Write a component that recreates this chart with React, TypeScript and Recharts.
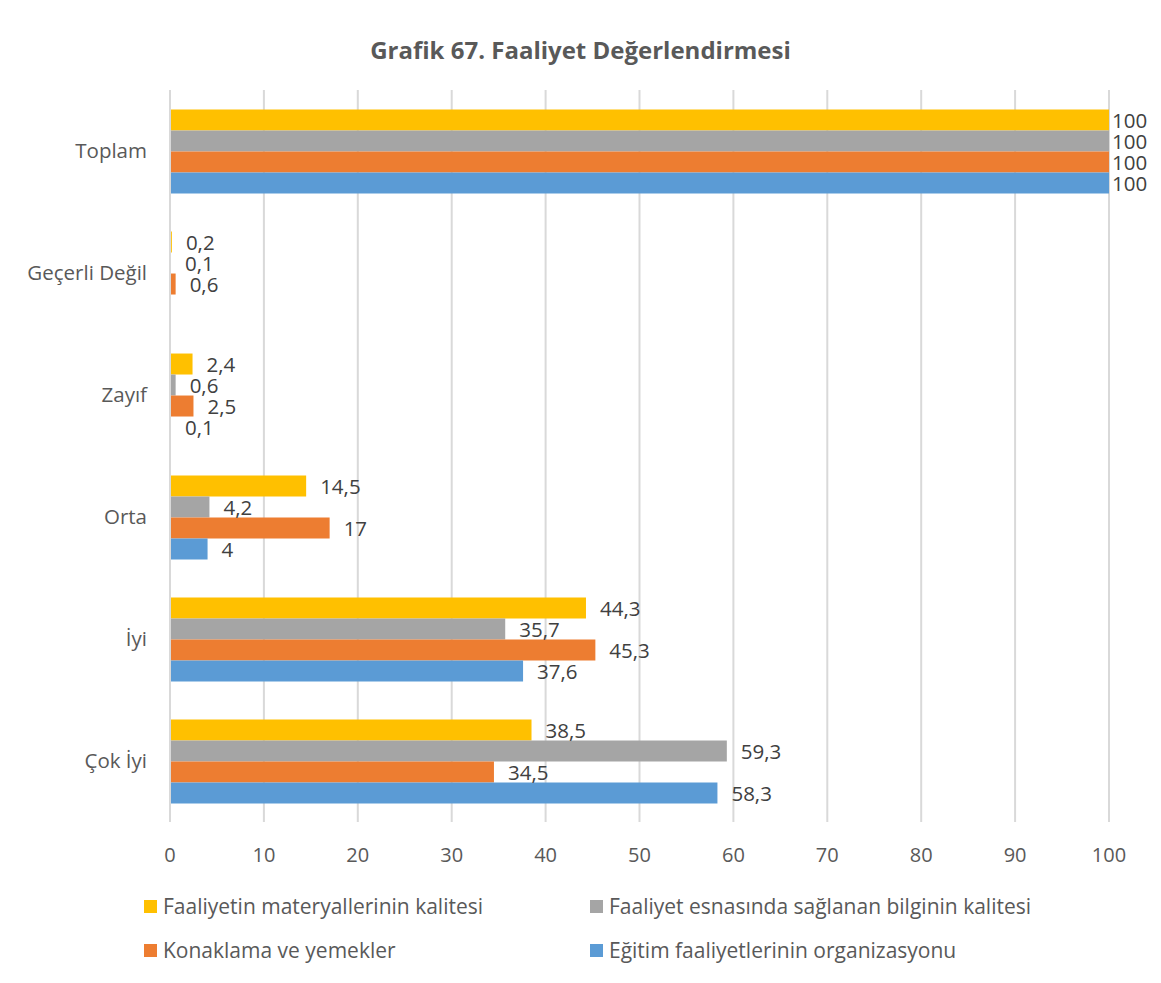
import React from "react";
import { BarChart, Bar, XAxis, YAxis, CartesianGrid, LabelList } from "recharts";

const categories = ["Toplam", "Geçerli Değil", "Zayıf", "Orta", "İyi", "Çok İyi"];
const materyal = [100, 0.2, 2.4, 14.5, 44.3, 38.5];
const bilgi = [100, 0.1, 0.6, 4.2, 35.7, 59.3];
const konaklama = [100, 0.6, 2.5, 17, 45.3, 34.5];
const organizasyon = [100, null, 0.1, 4, 37.6, 58.3];
const xTicks = [0, 10, 20, 30, 40, 50, 60, 70, 80, 90, 100];

const series = [
  { key: "materyal", name: "Faaliyetin materyallerinin kalitesi", color: "#FFC000", values: materyal },
  { key: "bilgi", name: "Faaliyet esnasında sağlanan bilginin kalitesi", color: "#A5A5A5", values: bilgi },
  { key: "konaklama", name: "Konaklama ve yemekler", color: "#ED7D31", values: konaklama },
  { key: "organizasyon", name: "Eğitim faaliyetlerinin organizasyonu", color: "#5B9BD5", values: organizasyon },
];

const data = categories.map((c, i) => {
  const row: any = { cat: c };
  series.forEach((s) => {
    row[s.key] = s.values[i];
  });
  return row;
});

const FONT = "'Open Sans', sans-serif";
const TEXT = "#595959";

const renderLabel = (props: any) => {
  const { x, y, width, height, value } = props;
  if (value === null || value === undefined) return null;
  const off = value >= 100 ? 3 : 14;
  return (
    <text
      x={x + width + off}
      y={y + height / 2}
      dominantBaseline="central"
      fill="#404040"
      fontSize={20.5}
      fontFamily={FONT}
    >
      {String(value).replace(".", ",")}
    </text>
  );
};

export default function App() {
  return (
    <div style={{ position: "relative", width: 1161, height: 983 }}>
      <svg
        width={1161}
        height={983}
        style={{ position: "absolute", left: -8, top: -8, pointerEvents: "none" }}
      >
        <rect x={7} y={7} width={1149} height={1000} fill="none" stroke="#d4d4d4" strokeWidth={1.5} />
      </svg>
      <div
        style={{
          position: "absolute",
          left: -8,
          top: 25,
          width: 1161,
          textAlign: "center",
          fontFamily: FONT,
          fontWeight: "bold",
          fontSize: 24,
          color: TEXT,
        }}
      >
        Grafik 67. Faaliyet Değerlendirmesi
      </div>
      <div style={{ position: "absolute", left: -8, top: -8 }}>
        <BarChart
          width={1161}
          height={880}
          data={data}
          layout="vertical"
          margin={{ top: 90, right: 52, left: 10, bottom: 18 }}
          barGap={0}
          barCategoryGap="16%"
        >
          <CartesianGrid horizontal={false} stroke="#d9d9d9" strokeWidth={2} />
          <XAxis
            type="number"
            domain={[0, 100]}
            ticks={xTicks}
            axisLine={false}
            tickLine={false}
            tickMargin={20}
            height={40}
            interval={0}
            tick={{ fill: TEXT, fontSize: 20, fontFamily: FONT }}
          />
          <YAxis
            type="category"
            dataKey="cat"
            width={160}
            axisLine={{ stroke: "#d9d9d9", strokeWidth: 2 }}
            tickLine={false}
            tickMargin={17}
            tick={{ fill: TEXT, fontSize: 20.5, fontFamily: FONT }}
          />
          {series.map((s) => (
            <Bar key={s.key} dataKey={s.key} name={s.name} fill={s.color} isAnimationActive={false}>
              <LabelList dataKey={s.key} content={renderLabel} />
            </Bar>
          ))}
        </BarChart>
      </div>
      {series.map((s, i) => (
        <div
          key={s.key}
          style={{
            position: "absolute",
            left: (i % 2 === 0 ? 144 : 590) - 8,
            top: (i < 2 ? 906 : 950) - 8 - 13,
            height: 26,
            display: "flex",
            alignItems: "center",
            fontFamily: FONT,
            fontSize: 21,
            color: TEXT,
            whiteSpace: "nowrap",
          }}
        >
          <span style={{ display: "inline-block", width: 13, height: 13, background: s.color, marginRight: 6 }} />
          {s.name}
        </div>
      ))}
    </div>
  );
}
